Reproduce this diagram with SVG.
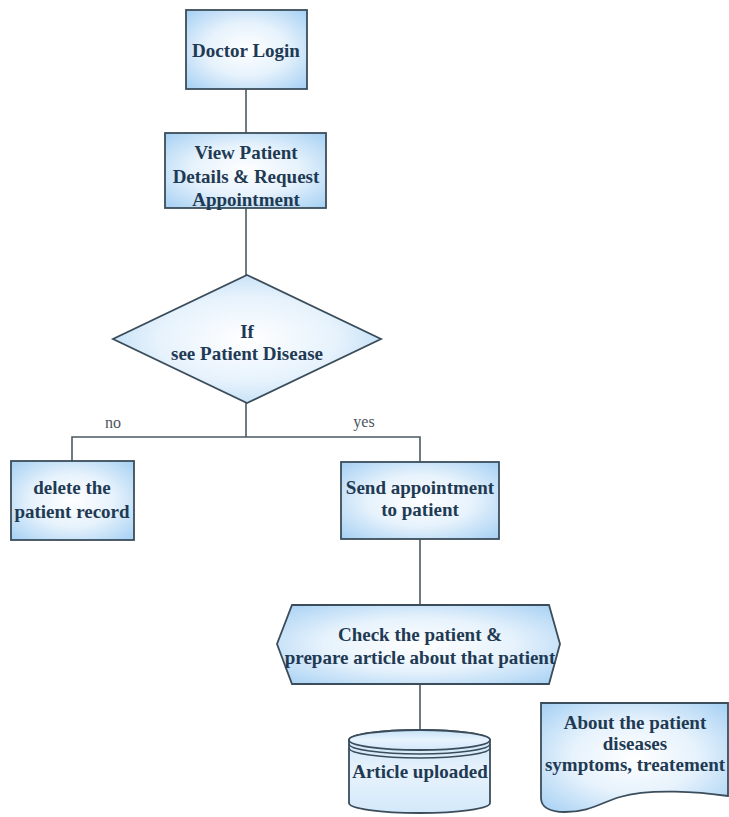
<svg xmlns="http://www.w3.org/2000/svg" width="729" height="817" viewBox="0 0 729 817">
  <defs>
    <radialGradient id="fillBlue" cx="0.5" cy="0.5" r="0.75">
      <stop offset="0" stop-color="#ffffff"/>
      <stop offset="0.45" stop-color="#e6f2fc"/>
      <stop offset="1" stop-color="#9ccbf2"/>
    </radialGradient>
    <linearGradient id="cylFill" x1="0" y1="0" x2="0" y2="1">
      <stop offset="0" stop-color="#c6e2f8"/>
      <stop offset="0.5" stop-color="#e8f3fc"/>
      <stop offset="1" stop-color="#d2e8fa"/>
    </linearGradient>
    <style>
      .shape { fill: url(#fillBlue); stroke: #3b4d5a; stroke-width: 1.8; }
      .cyl { fill: url(#cylFill); stroke: #3b4d5a; stroke-width: 1.8; }
      .ring { fill: none; stroke: #3b4d5a; stroke-width: 1.6; }
      .conn { fill: none; stroke: #4a5a62; stroke-width: 1.6; }
      .lbl { font-family: "Liberation Serif", "Times New Roman", serif; font-weight: bold; font-size: 19px; fill: #1f3a54; text-anchor: middle; }
      .edge { font-family: "Liberation Serif", "Times New Roman", serif; font-size: 16px; fill: #4a5560; text-anchor: middle; }
    </style>
  </defs>
  <rect width="729" height="817" fill="#ffffff"/>

  <!-- connectors -->
  <g id="connectors">
    <line class="conn" x1="246" y1="89" x2="246" y2="133"/>
    <line class="conn" x1="246" y1="208" x2="246" y2="275"/>
    <line class="conn" x1="246" y1="403" x2="246" y2="437"/>
    <polyline class="conn" points="72,461 72,437 420,437 420,462"/>
    <line class="conn" x1="420" y1="539" x2="420" y2="605"/>
    <line class="conn" x1="420" y1="684" x2="420" y2="730"/>
    <text class="edge" x="113" y="428">no</text>
    <text class="edge" x="364" y="427">yes</text>
  </g>

  <g id="doctor-login">
    <rect class="shape" x="186" y="10" width="121" height="79"/>
    <text class="lbl" x="246" y="57">Doctor Login</text>
  </g>

  <g id="view-patient">
    <rect class="shape" x="165" y="133" width="161" height="75"/>
    <text class="lbl" x="246" y="159">View Patient</text>
    <text class="lbl" x="246" y="183">Details &amp; Request</text>
    <text class="lbl" x="246" y="206">Appointment</text>
  </g>

  <g id="decision">
    <polygon class="shape" points="247,275 381,339 247,403 113,339"/>
    <text class="lbl" x="247" y="338">If</text>
    <text class="lbl" x="247" y="360">see Patient Disease</text>
  </g>

  <g id="delete-record">
    <rect class="shape" x="11" y="461" width="123" height="79"/>
    <text class="lbl" x="72" y="494">delete the</text>
    <text class="lbl" x="72" y="518">patient record</text>
  </g>

  <g id="send-appointment">
    <rect class="shape" x="341" y="462" width="158" height="77"/>
    <text class="lbl" x="420" y="494">Send appointment</text>
    <text class="lbl" x="420" y="516">to patient</text>
  </g>

  <g id="check-patient">
    <polygon class="shape" points="292,605 549,605 560,644 549,684 292,684 277,644"/>
    <text class="lbl" x="420" y="641">Check the patient &amp;</text>
    <text class="lbl" x="420" y="664">prepare article about that patient</text>
  </g>

  <g id="article-uploaded">
    <path class="cyl" d="M349,740 V803 A70.5,10 0 0 0 490,803 V740 A70.5,10 0 0 0 349,740 Z"/>
    <ellipse class="cyl" cx="419.5" cy="740" rx="70.5" ry="10"/>
    <path class="ring" d="M349,744 A70.5,10 0 0 0 490,744"/>
    <path class="ring" d="M349,748 A70.5,10 0 0 0 490,748"/>
    <text class="lbl" x="420" y="778">Article uploaded</text>
  </g>

  <g id="patient-info">
    <path class="shape" d="M541,703 H728 V796 C700,792 650,788 620,797 C600,803 590,812 565,812 C548,812 541,806 541,798 Z"/>
    <text class="lbl" x="635" y="729">About the patient</text>
    <text class="lbl" x="635" y="750">diseases</text>
    <text class="lbl" x="635" y="771">symptoms, treatement</text>
  </g>
</svg>
